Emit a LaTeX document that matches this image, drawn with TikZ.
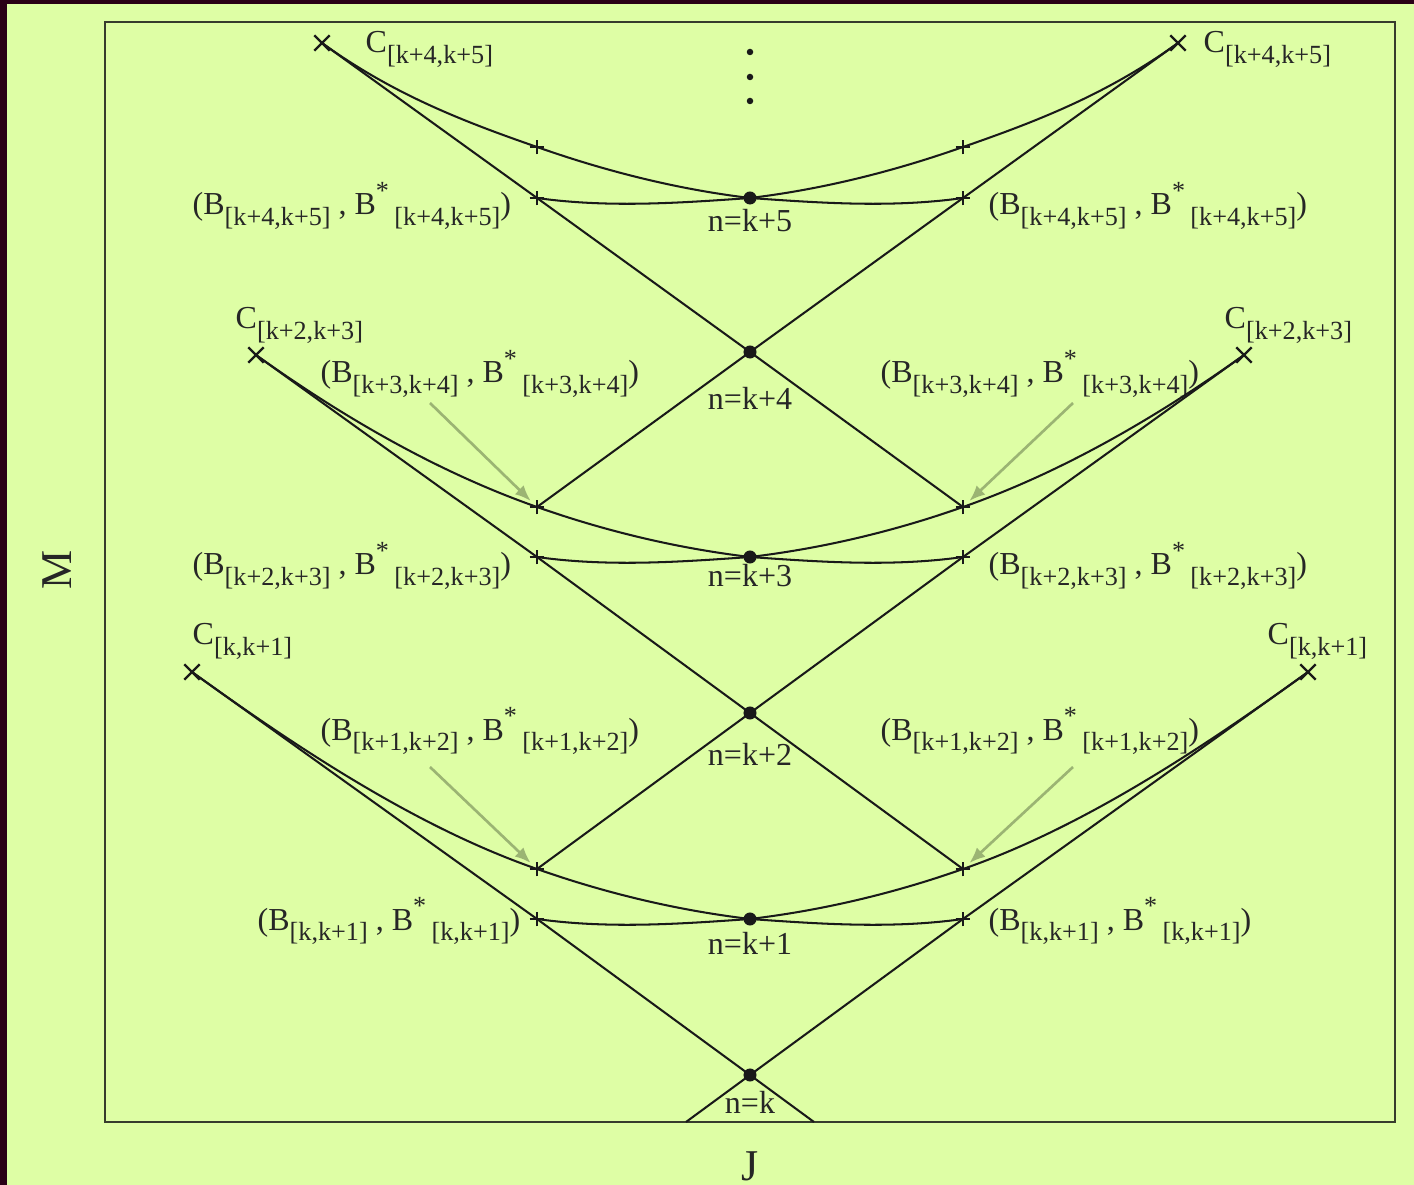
\documentclass[tikz,border=0pt]{standalone}
\usepackage{fontspec}
\setmainfont{Liberation Serif}
\usepackage{xcolor}
\definecolor{panelGreen}{RGB}{222,254,165}
\definecolor{edgeDark}{RGB}{42,0,22}
\definecolor{frameDark}{RGB}{55,60,45}
\definecolor{pointerGray}{RGB}{155,180,115}
\usetikzlibrary{shapes.misc,arrows.meta}

\newcommand{\lowsub}[1]{\raisebox{-3pt}{\fontsize{7.45}{8}\selectfont#1}}
\newcommand{\highstar}{\raisebox{4.3pt}{\fontsize{7.45}{8}\selectfont*}}
\newcommand{\Clab}[1]{C\lowsub{[#1]}}
\newcommand{\Blab}[1]{(B\lowsub{[#1]} , B\highstar\,\lowsub{[#1]})}

\begin{document}
\begin{tikzpicture}[
    x=0.01cm, y=-0.01cm,
    curveLine/.style={draw=black!90, line width=0.58pt},
    dotNode/.style={circle, fill=black!90, inner sep=0pt, minimum size=0.13cm},
    smallDot/.style={circle, fill=black!90, inner sep=0pt, minimum size=0.065cm},
    crossMark/.style={cross out, draw=black!90, line width=0.7pt, inner sep=0pt, minimum size=0.13cm},
    plusMark/.style={cross out, draw=black!90, line width=0.55pt, inner sep=0pt, minimum size=0.085cm, rotate=45},
    stateLabel/.style={font=\fontsize{9.1}{10}\selectfont, text=black!85, inner sep=0pt},
    axisLabel/.style={font=\fontsize{12.5}{14}\selectfont, text=black!85, inner sep=0pt},
    pointer/.style={-{Latex[length=4.5pt,width=3.6pt]}, draw=pointerGray, line width=0.75pt, shorten >=2.5pt}
]
    \useasboundingbox (0,0) rectangle (1414,1185);

    % Background and frame
    \fill[edgeDark] (0,0) rectangle (1414,1185);
    \fill[panelGreen] (7,4) rectangle (1414,1185);
    \draw[frameDark, line width=0.6pt] (105,22) rectangle (1395,1122);

    % Crossing points
    \node[dotNode] (n0) at (750,1075) {};
    \node[dotNode] (n1) at (750,919) {};
    \node[dotNode] (n2) at (750,713) {};
    \node[dotNode] (n3) at (750,557) {};
    \node[dotNode] (n4) at (750,352) {};
    \node[dotNode] (n5) at (750,198) {};
    \node[smallDot] (vd1) at (750,52) {};
    \node[smallDot] (vd2) at (750,77) {};
    \node[smallDot] (vd3) at (750,101) {};

    % C end points
    \node[crossMark] (cL1) at (192,672) {};
    \node[crossMark] (cR1) at (1308,672) {};
    \node[crossMark] (cL3) at (256,355) {};
    \node[crossMark] (cR3) at (1244,355) {};
    \node[crossMark] (cL5) at (322,43) {};
    \node[crossMark] (cR5) at (1178,43) {};

    % B points
    \node[plusMark] (pL1a) at (537,869) {};
    \node[plusMark] (pL1b) at (537,919) {};
    \node[plusMark] (pR1a) at (963,869) {};
    \node[plusMark] (pR1b) at (963,919) {};
    \node[plusMark] (pL3a) at (537,507) {};
    \node[plusMark] (pL3b) at (537,557) {};
    \node[plusMark] (pR3a) at (963,507) {};
    \node[plusMark] (pR3b) at (963,557) {};
    \node[plusMark] (pL5a) at (537,147) {};
    \node[plusMark] (pL5b) at (537,198) {};
    \node[plusMark] (pR5a) at (963,147) {};
    \node[plusMark] (pR5b) at (963,198) {};

    \coordinate (bL) at (686,1122);
    \coordinate (bR) at (814,1122);

    % Labels
    \node[stateLabel, anchor=base west] (lC5L) at (365,53) {\Clab{k+4,k+5}};
    \node[stateLabel, anchor=base west] (lC5R) at (1203,53) {\Clab{k+4,k+5}};
    \node[stateLabel, anchor=base west] (lB5L) at (192,215) {\Blab{k+4,k+5}};
    \node[stateLabel, anchor=base west] (lB5R) at (988,215) {\Blab{k+4,k+5}};
    \node[stateLabel, anchor=base] (lN5) at (750,232) {n=k+5};
    \node[stateLabel, anchor=base west] (lC3L) at (235,329) {\Clab{k+2,k+3}};
    \node[stateLabel, anchor=base west] (lC3R) at (1224,329) {\Clab{k+2,k+3}};
    \node[stateLabel, anchor=base west] (lB4L) at (320,383) {\Blab{k+3,k+4}};
    \node[stateLabel, anchor=base west] (lB4R) at (880,383) {\Blab{k+3,k+4}};
    \node[stateLabel, anchor=base] (lN4) at (750,410) {n=k+4};
    \node[stateLabel, anchor=base west] (lB3L) at (192,575) {\Blab{k+2,k+3}};
    \node[stateLabel, anchor=base west] (lB3R) at (988,575) {\Blab{k+2,k+3}};
    \node[stateLabel, anchor=base] (lN3) at (750,587) {n=k+3};
    \node[stateLabel, anchor=base west] (lC1L) at (192,645) {\Clab{k,k+1}};
    \node[stateLabel, anchor=base west] (lC1R) at (1267,645) {\Clab{k,k+1}};
    \node[stateLabel, anchor=base west] (lB2L) at (320,740) {\Blab{k+1,k+2}};
    \node[stateLabel, anchor=base west] (lB2R) at (880,740) {\Blab{k+1,k+2}};
    \node[stateLabel, anchor=base] (lN2) at (750,765) {n=k+2};
    \node[stateLabel, anchor=base west] (lB1L) at (257,930) {\Blab{k,k+1}};
    \node[stateLabel, anchor=base west] (lB1R) at (988,930) {\Blab{k,k+1}};
    \node[stateLabel, anchor=base] (lN1) at (750,955) {n=k+1};
    \node[stateLabel, anchor=base] (lN0) at (750,1113) {n=k};
    \node[axisLabel, anchor=base] (labJ) at (750,1180) {J};
    \node[axisLabel, rotate=90] (labM) at (57,570) {M};

    % Straight lines
    \draw[curveLine] (cL1.center) -- (pL1b.center) -- (n0.center) -- (bR);
    \draw[curveLine] (cR1.center) -- (pR1b.center) -- (n0.center) -- (bL);
    \draw[curveLine] (cL3.center) -- (pL3b.center) -- (n2.center) -- (pR1a.center);
    \draw[curveLine] (cR3.center) -- (pR3b.center) -- (n2.center) -- (pL1a.center);
    \draw[curveLine] (cL5.center) -- (pL5b.center) -- (n4.center) -- (pR3a.center);
    \draw[curveLine] (cR5.center) -- (pR5b.center) -- (n4.center) -- (pL3a.center);

    % Curves, level k+1
    \draw[curveLine] (cL1.center) .. controls (307,755) and (422,829) .. (pL1a.center)
        .. controls (608,894) and (679,910.5) .. (n1.center)
        .. controls (821,910.5) and (892,894) .. (pR1a.center)
        .. controls (1078,829) and (1193,755) .. (cR1.center);
    \draw[curveLine] (pL1b.center) .. controls (608,929) and (679,924) .. (n1.center)
        .. controls (821,924) and (892,929) .. (pR1b.center);

    % Curves, level k+3
    \draw[curveLine] (cL3.center) .. controls (350,422) and (443,474) .. (pL3a.center)
        .. controls (608,532) and (679,548.5) .. (n3.center)
        .. controls (821,548.5) and (892,532) .. (pR3a.center)
        .. controls (1057,474) and (1150,422) .. (cR3.center);
    \draw[curveLine] (pL3b.center) .. controls (608,567) and (679,562) .. (n3.center)
        .. controls (821,562) and (892,567) .. (pR3b.center);

    % Curves, level k+5
    \draw[curveLine] (cL5.center) .. controls (394,95) and (465,122) .. (pL5a.center)
        .. controls (608,172) and (679,189.5) .. (n5.center)
        .. controls (821,189.5) and (892,172) .. (pR5a.center)
        .. controls (1035,122) and (1106,95) .. (cR5.center);
    \draw[curveLine] (pL5b.center) .. controls (608,208) and (679,203) .. (n5.center)
        .. controls (821,203) and (892,208) .. (pR5b.center);

    % Pointers
    \coordinate (tailL4) at (430,403);
    \coordinate (tailR4) at (1073,403);
    \coordinate (tailL2) at (430,767);
    \coordinate (tailR2) at (1073,767);
    \draw[pointer] (tailL4) -- (pL3a.center);
    \draw[pointer] (tailR4) -- (pR3a.center);
    \draw[pointer] (tailL2) -- (pL1a.center);
    \draw[pointer] (tailR2) -- (pR1a.center);

\end{tikzpicture}
\end{document}
